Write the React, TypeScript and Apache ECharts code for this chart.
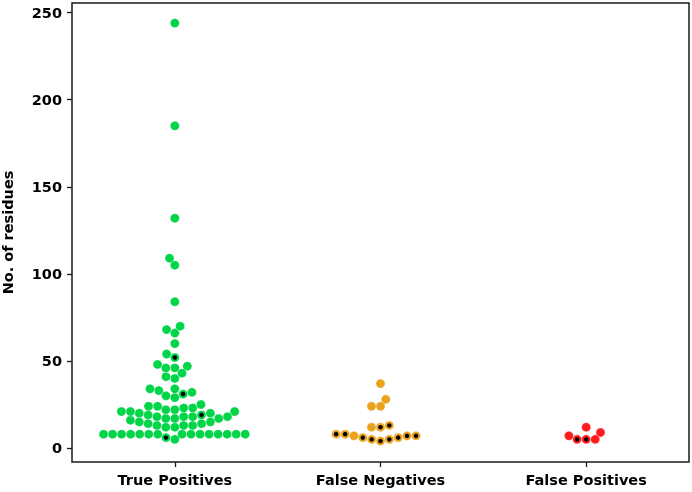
import React, { useEffect, useRef } from 'react';
import * as echarts from 'echarts';

const categories = ['True Positives', 'False Negatives', 'False Positives'];
const colors = ['#00d447', '#eba21c', '#ff1c1c'];
const yTicks = [0, 50, 100, 150, 200, 250];

const tpValues = [244, 185, 132, 109, 105, 84, 70, 68, 66, 60, 54, 52, 48, 47, 46, 46, 43, 41, 40,
  34, 34, 33, 32, 31, 30, 29, 25, 24, 24, 23, 23, 22, 22, 21, 21, 21, 20, 20, 19, 19, 18, 18, 18, 18,
  17, 17, 17, 16, 15, 15, 14, 14, 13, 13, 13, 12, 12,
  8, 8, 8, 8, 8, 8, 8, 8, 8, 8, 8, 8, 8, 8, 8, 6, 5];
// [value, occurrence] of the points drawn with a black centre
const tpMarked = [[52, 0], [31, 0], [19, 1], [6, 0]];
const fnValues = [37, 28, 24, 24, 13, 12, 12, 8, 8, 7, 7, 7, 6, 6, 5, 5, 4];
const fnMarked = [[13, 0], [12, 0], [8, 0], [8, 1], [7, 1], [7, 2], [6, 0], [6, 1], [5, 0], [5, 1], [4, 0]];
const fpValues = [12, 9, 7, 5, 5, 5];
const fpMarked = [[5, 0], [5, 2]];

const W = 692, H = 492;
const G = { left: 72, right: 3, top: 3, bottom: 30 };
const Y_MIN = -8, Y_MAX = 255.5;
const X_MIN = -0.5, X_MAX = 2.5;
const R = 4.3;

function beeswarm(values: number[], pyScale: number) {
  const pts = values.map((v, i) => ({ v, i, y: v * pyScale })).sort((a, b) => a.y - b.y || a.i - b.i);
  const swarm: { x: number; y: number; v: number }[] = [];
  for (const p of pts) {
    if (swarm.length === 0) { swarm.push({ x: 0, y: p.y, v: p.v }); continue; }
    const neighbors: { x: number; y: number }[] = [];
    for (let k = swarm.length - 1; k >= 0; k--) {
      if (p.y - swarm[k].y < 2 * R) neighbors.push(swarm[k]); else break;
    }
    const cands: number[] = [0];
    let leftFirst = true;
    for (const n of neighbors) {
      const dy = p.y - n.y;
      const dx = Math.sqrt(Math.max(4 * R * R - dy * dy, 0)) * 1.05;
      if (leftFirst) cands.push(n.x - dx, n.x + dx); else cands.push(n.x + dx, n.x - dx);
      leftFirst = !leftFirst;
    }
    const order = cands.map((c, k) => ({ c, k })).sort((a, b) => {
      const d = Math.abs(a.c) - Math.abs(b.c);
      return Math.abs(d) > 1e-6 ? d : a.k - b.k;
    });
    let chosen = 0;
    for (const { c } of order) {
      let ok = true;
      for (const n of neighbors) {
        const dx = n.x - c, dy = n.y - p.y;
        if (dx * dx + dy * dy < 4 * R * R - 1e-6) { ok = false; break; }
      }
      if (ok) { chosen = c; break; }
    }
    swarm.push({ x: chosen, y: p.y, v: p.v });
  }
  return swarm;
}

export default function App() {
  const ref = useRef<HTMLDivElement>(null);
  useEffect(() => {
    if (!ref.current) return;
    const chart = echarts.init(ref.current, undefined, { renderer: 'svg' });
    const plotW = W - G.left - G.right;
    const plotH = H - G.top - G.bottom;
    const pyScale = plotH / (Y_MAX - Y_MIN);
    const pxScale = plotW / (X_MAX - X_MIN);
    const groups = [
      { values: tpValues, marked: tpMarked, flip: 1 },
      { values: fnValues, marked: fnMarked, flip: 1 },
      { values: fpValues, marked: fpMarked, flip: -1 },
    ];
    const series: any[] = [];
    const blackSeries: any[] = [];
    groups.forEach((g, ci) => {
      const sw = beeswarm(g.values, pyScale);
      const pts = sw.map((s) => [ci + (g.flip * s.x) / pxScale, s.v]);
      const marks: number[][] = [];
      g.marked.forEach(([mv, nth]) => {
        let seen = 0;
        for (let k = 0; k < sw.length; k++) {
          if (sw[k].v === mv) {
            if (seen === nth) { marks.push(pts[k]); break; }
            seen++;
          }
        }
      });
      series.push({
        type: 'scatter', data: pts, symbolSize: 9, z: 2,
        itemStyle: { color: colors[ci], opacity: 1, borderColor: 'rgba(255,255,255,0.5)', borderWidth: 0.6 },
        silent: true,
      });
      blackSeries.push({
        type: 'scatter', data: marks, symbolSize: 4.5, z: 3,
        itemStyle: { color: '#000', opacity: 1 }, silent: true,
      });
    });
    const font = { fontFamily: 'DejaVu Sans', fontWeight: 'bold' as const, fontSize: 14.5, color: '#000' };
    chart.setOption({
      animation: false,
      grid: { ...G, show: true, borderColor: '#1a1a1a', borderWidth: 1.5, backgroundColor: 'transparent',
        containLabel: false, outerBoundsMode: 'none' },
      xAxis: {
        type: 'value', min: X_MIN, max: X_MAX,
        splitLine: { show: false },
        axisLine: { show: false, onZero: false },
        axisTick: { show: true, length: 5, lineStyle: { color: '#1a1a1a', width: 1.3 }, customValues: [0, 1, 2] },
        axisLabel: { ...font, margin: 10, customValues: [0, 1, 2], formatter: (v: number) => categories[Math.round(v)] ?? '' },
      },
      yAxis: {
        type: 'value', min: Y_MIN, max: Y_MAX,
        name: 'No. of residues', nameLocation: 'middle', nameGap: 57, nameRotate: 90,
        nameTextStyle: { ...font },
        splitLine: { show: false },
        axisLine: { show: false, onZero: false },
        axisTick: { show: true, length: 5, lineStyle: { color: '#1a1a1a', width: 1.3 }, customValues: yTicks },
        axisLabel: { ...font, margin: 10, customValues: yTicks },
      },
      series: [...series, ...blackSeries],
    });
    return () => chart.dispose();
  }, []);
  return <div ref={ref} style={{ position: 'fixed', left: 0, top: 0, width: W, height: H }} />;
}
